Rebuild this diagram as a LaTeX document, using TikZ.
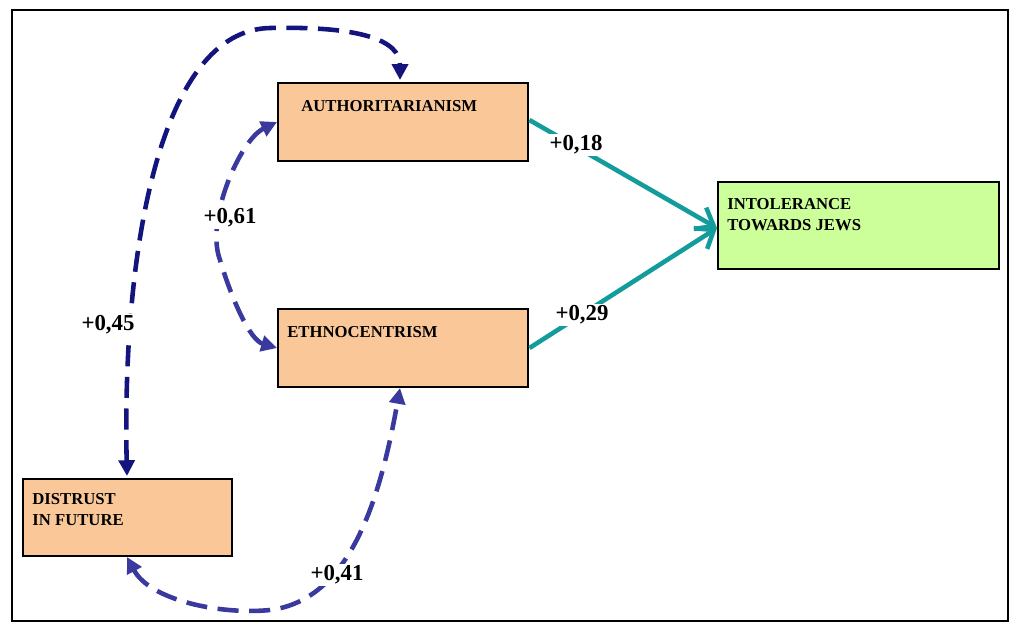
\documentclass[tikz,border=0pt]{standalone}
\usepackage{fontspec}
\setmainfont{Liberation Serif}
\usetikzlibrary{arrows.meta}
\begin{document}
\begin{tikzpicture}[x=0.02cm,y=-0.02cm,
 box/.style={draw=black,line width=1.4pt,fill=boxor,anchor=north west,inner sep=0pt},
 txt/.style={anchor=north west,font=\bfseries\fontsize{9.5}{12}\selectfont,align=left,inner sep=0pt},
 lab/.style={font=\bfseries\fontsize{13}{15}\selectfont,fill=white,inner sep=1pt},
 teal/.style={draw=tealc,line width=2.6pt,-{Straight Barb[length=9pt,width=14pt]}},
 dnavy/.style={draw=navyc,line width=2.6pt,dash pattern=on 12pt off 6pt,{Triangle[length=9pt,width=9pt]}-{Triangle[length=9pt,width=9pt]}},
 dblue/.style={draw=bluec,line width=2.6pt,dash pattern=on 12pt off 6pt,{Triangle[length=9pt,width=9pt]}-{Triangle[length=9pt,width=9pt]}}]
\definecolor{boxor}{HTML}{FAC898}
\definecolor{boxgr}{HTML}{CCFF99}
\definecolor{tealc}{HTML}{139C9C}
\definecolor{navyc}{HTML}{14147E}
\definecolor{bluec}{HTML}{3A3A9E}
\useasboundingbox (0,0) rectangle (1024,633);
\draw[line width=1pt] (12,10) rectangle (1008,621);
\node[box,minimum width=250*0.02cm,minimum height=78*0.02cm] (auth) at (277,82) {};
\node[box,minimum width=250*0.02cm,minimum height=78*0.02cm] (eth) at (277,308) {};
\node[box,fill=boxgr,minimum width=281*0.02cm,minimum height=87*0.02cm] (int) at (717,181) {};
\node[box,minimum width=209*0.02cm,minimum height=77*0.02cm] (dis) at (22,478) {};
\node[txt] (ta) at (301,100) {AUTHORITARIANISM};
\node[txt] (te) at (287,326) {ETHNOCENTRISM};
\node[txt] (ti) at (727,198) {INTOLERANCE\\TOWARDS JEWS};
\node[txt] (td) at (32,493) {DISTRUST\\IN FUTURE};
\coordinate (ia) at (717,228);
\draw[teal] (auth.east |- 0,120) -- (ia);
\draw[teal] (eth.east |- 0,348) -- (ia);
\node[lab] (l18) at (576,145) {+0,18};
\node[lab] (l29) at (582,315) {+0,29};
\draw[dnavy] (127,476) .. controls (122,250) and (160,30) .. (270,28) .. controls (360,26) and (400,40) .. (400,80);
\draw[dblue] (277,122) .. controls (240,140) and (205,220) .. (220,260) .. controls (232,300) and (250,340) .. (277,348);
\draw[dblue] (127,557) .. controls (150,600) and (220,615) .. (270,610) .. controls (350,600) and (380,500) .. (400,388);
\node[lab] (l45) at (108,325) {+0,45};
\node[lab] (l61) at (230,218) {+0,61};
\node[lab] (l41) at (337,575) {+0,41};
\end{tikzpicture}
\end{document}
